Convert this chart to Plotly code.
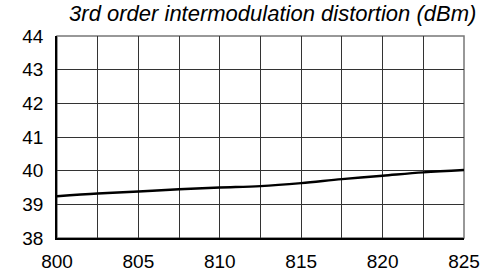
import plotly.graph_objects as go

freq_mhz = [800, 802.5, 805, 807.5, 810, 812.5, 815, 817.5, 820, 822.5, 825]
imd3_dbm = [39.24, 39.32, 39.38, 39.45, 39.50, 39.54, 39.63, 39.75, 39.85, 39.95, 40.02]
x_ticks = [800, 805, 810, 815, 820, 825]
y_ticks = [38, 39, 40, 41, 42, 43, 44]
title_text = "3rd order intermodulation distortion (dBm)"

font_family = "Liberation Sans, Arial, sans-serif"
grid_col = "#333333"

fig = go.Figure()
fig.add_trace(go.Scatter(x=freq_mhz, y=imd3_dbm, mode="lines",
                         line=dict(color="black", width=2.4, shape="spline", smoothing=1.0),
                         showlegend=False, hoverinfo="skip"))

fig.update_layout(
    width=502, height=276,
    margin=dict(l=57, r=38, t=36, b=38, autoexpand=False),
    paper_bgcolor="white", plot_bgcolor="white",
    font=dict(family=font_family, size=19, color="black"),
    title=dict(text=title_text, x=0.53, xref="paper", xanchor="center",
               y=1 - 13 / 276, yref="container", yanchor="middle", automargin=False,
               font=dict(family=font_family, size=22, color="black", style="italic")),
)
fig.update_xaxes(range=[800, 825], tickvals=x_ticks, ticktext=[str(v) for v in x_ticks],
                 showgrid=True, gridcolor=grid_col, gridwidth=1,
                 minor=dict(dtick=2.5, tick0=800, showgrid=True, gridcolor=grid_col, gridwidth=1),
                 showline=True, linecolor="black", linewidth=1.5, mirror=False,
                 ticks="", ticklabelstandoff=5, zeroline=False, automargin=False,
                 tickfont=dict(size=19))
fig.update_yaxes(range=[38, 44], tickvals=y_ticks, ticktext=[str(v) for v in y_ticks],
                 showgrid=True, gridcolor=grid_col, gridwidth=1,
                 showline=True, linecolor="black", linewidth=1.5, mirror=False,
                 ticks="", ticklabelstandoff=8, zeroline=False, automargin=False,
                 tickfont=dict(size=19))
fig.add_shape(type="rect", xref="paper", yref="paper", x0=0, y0=0, x1=1, y1=1,
              line=dict(color="#777777", width=1.5), layer="below")

fig.write_html("out.html", config={"displayModeBar": False},
               post_script="document.body.style.margin='0';")
